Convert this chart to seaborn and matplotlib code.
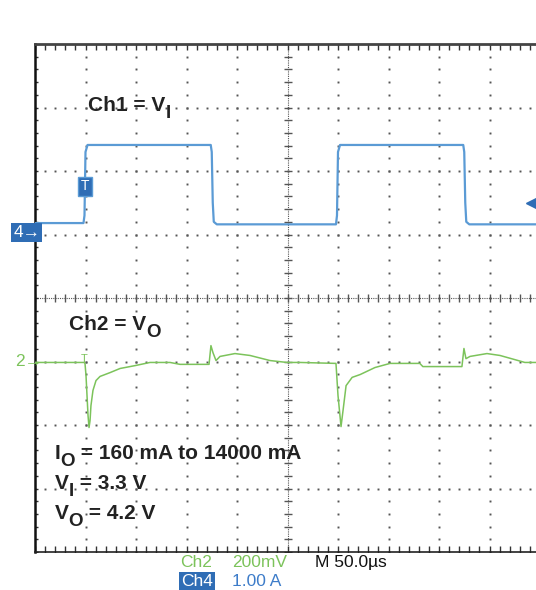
#!/usr/bin/env python3
"""Scope capture: load-step transient, Ch4 = load current, Ch2 = output voltage (AC)."""

import matplotlib

matplotlib.use("Agg")
import matplotlib.pyplot as plt
import matplotlib.transforms as mtransforms
import pandas as pd
import seaborn as sns

# scope settings
TIME_PER_DIV_US = 50.0
CH2_MV_PER_DIV = 200.0
CH4_A_PER_DIV = 1.0
CH2_OFFSET_DIV = 3.0
CH4_OFFSET_DIV = 5.0

# Ch4: load current (A)
CH4_TIME_US = [0, 48, 49, 50, 52, 174, 175, 176, 177, 180,
               298, 299, 300, 302, 424, 425, 426, 427, 430, 505]
CH4_CURRENT_A = [0.18, 0.18, 0.3, 1.3, 1.41, 1.41, 1.3, 0.5, 0.2, 0.16,
                 0.16, 0.3, 1.3, 1.41, 1.41, 1.3, 0.5, 0.2, 0.16, 0.16]

# Ch2: output voltage deviation (mV)
CH2_TIME_US = [0, 48.5, 49.5, 50.5, 52.5, 53.5, 54.5, 55.4, 57.4, 60.4,
               64.4, 74.3, 84.2, 99, 113.9, 133.7, 143.6, 172.3, 174.2, 176.2,
               179.2, 183.2, 198, 212.9, 232.7, 249.5, 262.4, 298, 300, 303,
               305, 308, 314, 322, 336.6, 351.5, 381, 384, 422.7, 424.7,
               426.7, 430.7, 447.5, 460.4, 475, 485, 500]
CH2_DEV_MV = [-3, -3, -6, -44, -170, -208, -186, -139, -91, -60,
              -47, -35, -22, -13, -3, -3, -9, -9, 50, 28,
              3, 16, 25, 19, 3, -3, -3, -6, -107, -205,
              -154, -76, -50, -41, -19, -6, -6, -16, -16, 41,
              9, 16, 25, 19, 6, -3, -3]

# annotation lines: (pieces, subscript flags)
LABELS = [
    (52.5, 6.94, [("Ch1 = V", False), ("I", True)]),
    (33.5, 3.50, [("Ch2 = V", False), ("O", True)]),
    (19.5, 1.47, [("I", False), ("O", True), (" = 160 mA to 14000 mA", False)]),
    (19.5, 0.99, [("V", False), ("I", True), (" = 3.3 V", False)]),
    (19.5, 0.52, [("V", False), ("O", True), (" = 4.2 V", False)]),
]

BLUE = "#5b9bd5"
BLUE_BOX = "#2f6db5"
GREEN = "#7cc35b"
GRID = "#555555"


def draw_graticule(ax):
    t_max = TIME_PER_DIV_US * 10
    minor_t = [k * TIME_PER_DIV_US / 5 for k in range(51)]
    minor_y = [k * 0.2 for k in range(41)]

    # dotted major lines
    for i in range(1, 10):
        if i == 5:
            continue
        x = i * TIME_PER_DIV_US
        ax.plot([x] * len(minor_y), minor_y, ls="none", marker="s", ms=1.4,
                mec="none", color=GRID)
    for j in range(1, 8):
        if j == 4:
            continue
        ax.plot(minor_t, [j] * len(minor_t), ls="none", marker="s", ms=1.4,
                mec="none", color=GRID)

    # centre cross with ticks
    xc = 5 * TIME_PER_DIV_US
    ax.axvline(xc, color=GRID, lw=0.8, ls=(0, (1, 1)))
    ax.axhline(4, color=GRID, lw=0.8, ls=(0, (1, 1)))
    ax.plot([xc] * len(minor_y), minor_y, ls="none", marker="_", ms=6,
            mew=1.0, color=GRID)
    ax.plot(minor_t, [4] * len(minor_t), ls="none", marker="|", ms=6,
            mew=1.0, color=GRID)

    # edge ticks
    ax.plot(minor_t, [8] * len(minor_t), ls="none", marker="|", ms=8,
            mew=1.0, color="#333333")
    ax.plot(minor_t, [0] * len(minor_t), ls="none", marker="|", ms=8,
            mew=1.0, color="#333333")
    ax.plot([0] * len(minor_y), minor_y, ls="none", marker="_", ms=5,
            mew=1.0, color="#333333")
    ax.set_xlim(0, t_max)
    ax.set_ylim(0, 8)


def label_with_subscripts(ax, fig, x, y, pieces):
    """Lay out text pieces left to right; subscripts are slightly smaller and dropped."""
    renderer = fig.canvas.get_renderer()
    dx = 0.0
    for txt, is_sub in pieces:
        size = 13.5 if is_sub else 15
        dy = -7 if is_sub else 0
        tr = mtransforms.offset_copy(ax.transData, fig=fig, x=dx, y=dy,
                                     units="dots")
        t = ax.text(x, y, txt, transform=tr, fontsize=size, fontweight="bold",
                    color="#222222", va="baseline", ha="left")
        dx += t.get_window_extent(renderer).width


def main():
    sns.set_style("white")
    plt.rcParams["font.family"] = ["Liberation Sans", "DejaVu Sans"]

    df4 = pd.DataFrame({"t": CH4_TIME_US, "i": CH4_CURRENT_A})
    df4["div"] = CH4_OFFSET_DIV + df4["i"] / CH4_A_PER_DIV
    df2 = pd.DataFrame({"t": CH2_TIME_US, "v": CH2_DEV_MV})
    df2["div"] = CH2_OFFSET_DIV + df2["v"] / CH2_MV_PER_DIV

    fig = plt.figure(figsize=(5.36, 5.90), dpi=100)
    W, H = 536, 590
    ax = fig.add_axes([35 / W, 1 - 552 / H, 505 / W, 508 / H])

    draw_graticule(ax)

    sns.lineplot(data=df4, x="t", y="div", ax=ax, color=BLUE, lw=1.6,
                 estimator=None, sort=False, zorder=5)
    sns.lineplot(data=df2, x="t", y="div", ax=ax, color=GREEN, lw=1.1,
                 estimator=None, sort=False, zorder=5)

    ax.set_xticks([])
    ax.set_yticks([])
    ax.set_xlabel("")
    ax.set_ylabel("")
    ax.spines["right"].set_visible(False)
    ax.spines["left"].set_color("#111111")
    ax.spines["left"].set_linewidth(1.8)
    ax.spines["top"].set_color("#444444")
    ax.spines["top"].set_linewidth(2.0)
    ax.spines["bottom"].set_color("#222222")
    ax.spines["bottom"].set_linewidth(1.2)

    for x, y, pieces in LABELS:
        label_with_subscripts(ax, fig, x, y, pieces)

    # channel ground markers
    ax.text(-21.5, CH4_OFFSET_DIV + 0.03, "4\u2192", color="white", fontsize=12.5,
            ha="left", va="center", clip_on=False, zorder=6,
            bbox=dict(boxstyle="square,pad=0.12", fc=BLUE_BOX, ec="none"))
    ax.text(-20, CH2_OFFSET_DIV, "2\u2192", color=GREEN, fontsize=12.5,
            ha="left", va="center", clip_on=False, zorder=6)

    # trigger position / level markers
    ax.text(49.5, 5.76, "T", color="white", fontsize=10, ha="center",
            va="center", zorder=7,
            bbox=dict(boxstyle="square,pad=0.18", fc=BLUE_BOX, ec=BLUE))
    ax.text(49.0, 3.04, "T", color=GREEN, fontsize=8, ha="center",
            va="center", zorder=7)
    ax.plot([492], [5.5], marker="<", ms=9, color=BLUE_BOX, clip_on=False,
            zorder=7)

    # readout below the screen
    ro = dict(fontsize=12.5, va="baseline")
    fig.text(180 / W, 1 - 567 / H, "Ch2", color=GREEN, **ro)
    fig.text(232 / W, 1 - 567 / H, "200mV", color=GREEN, **ro)
    fig.text(315 / W, 1 - 567 / H, "M 50.0\u00b5s", color="#111111", **ro)
    fig.text(181 / W, 1 - 586 / H, "Ch4", color="white",
             bbox=dict(boxstyle="square,pad=0.1", fc=BLUE_BOX, ec="none"), **ro)
    fig.text(232 / W, 1 - 586 / H, "1.00 A", color="#3d7cc9", **ro)

    fig.savefig("out.png", dpi=100)


if __name__ == "__main__":
    main()
